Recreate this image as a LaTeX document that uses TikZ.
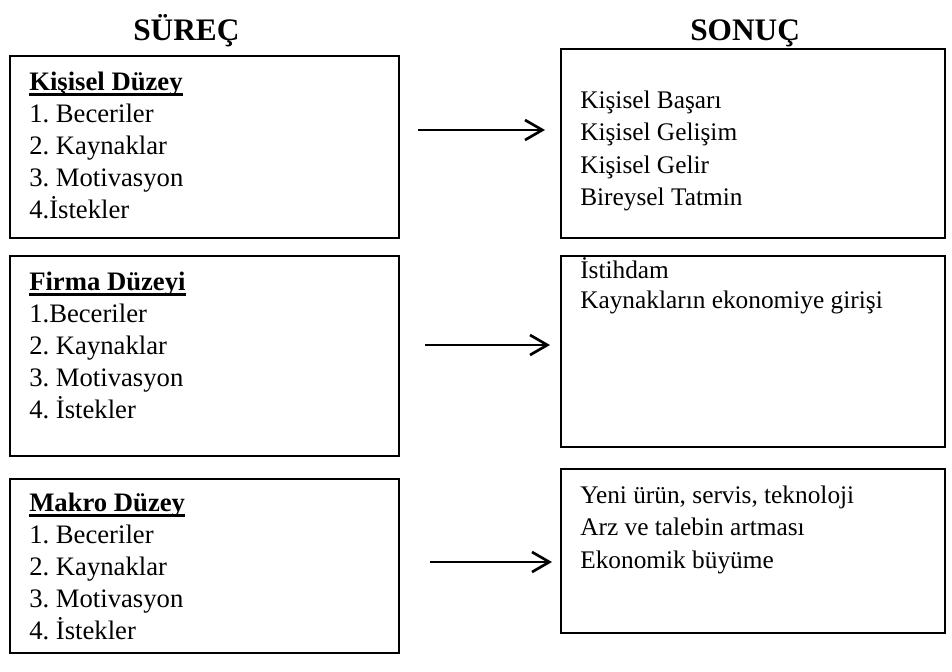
\documentclass[tikz,border=0pt]{standalone}
\usepackage{fontspec}
\setmainfont{Liberation Serif}
\usetikzlibrary{arrows.meta}
\frenchspacing

\newcommand{\ulbf}[1]{\setbox0\hbox{\bfseries #1}\rlap{\rule[-4.3pt]{\wd0}{2pt}}\box0}

\tikzset{
  box/.style={draw, line width=1.4pt, anchor=north west, inner sep=0pt},
  item/.style={anchor=base west, inner sep=0pt, font=\fontsize{20}{24}\selectfont},
  result/.style={item, font=\fontsize{19}{23}\selectfont},
  title/.style={anchor=base west, inner sep=0pt, font=\fontsize{23.5}{28}\selectfont\bfseries},
  arr/.style={-{Straight Barb[length=13pt,width=15pt]}, line width=2pt}
}

\begin{document}
\begin{tikzpicture}[x=0.75pt,y=-0.75pt]
\useasboundingbox (0,0) rectangle (952,671);

\node[title] (surec) at (133,40) {SÜREÇ};
\node[title] (sonuc) at (690,40) {SONUÇ};

% left boxes
\node[box, minimum width=291.75pt, minimum height=136.5pt] (kisisel) at (9,55) {};
\node[box, minimum width=291.75pt, minimum height=150pt] (firma) at (9,255) {};
\node[box, minimum width=291.75pt, minimum height=130.5pt] (makro) at (9,478) {};

\node[item] (kisisel-0) at (29,90) {\ulbf{Kişisel Düzey}};
\foreach \t [count=\i] in {1. Beceriler, 2. Kaynaklar, 3. Motivasyon, 4.İstekler}
  \node[item] (kisisel-\i) at (29,{90+32.2*\i}) {\t};

\node[item] (firma-0) at (29,290) {\ulbf{Firma Düzeyi}};
\foreach \t [count=\i] in {1.Beceriler, 2. Kaynaklar, 3. Motivasyon, 4. İstekler}
  \node[item] (firma-\i) at (29,{290+32*\i}) {\t};

\node[item] (makro-0) at (29,511) {\ulbf{Makro Düzey}};
\foreach \t [count=\i] in {1. Beceriler, 2. Kaynaklar, 3. Motivasyon, 4. İstekler}
  \node[item] (makro-\i) at (29,{511+32*\i}) {\t};

% right boxes
\node[box, minimum width=288pt, minimum height=141.75pt] (basari) at (560,48) {};
\node[box, minimum width=288pt, minimum height=143.25pt] (istihdam) at (560,255) {};
\node[box, minimum width=288pt, minimum height=123pt] (buyume) at (560,468) {};

\foreach \t [count=\i from 0] in {Kişisel Başarı, Kişisel Gelişim, Kişisel Gelir, Bireysel Tatmin}
  \node[result] (basari-\i) at (580,{108+32.5*\i}) {\t};
\foreach \t [count=\i from 0] in {İstihdam, Kaynakların ekonomiye girişi}
  \node[result] (istihdam-\i) at (580,{278+30.5*\i}) {\t};
\foreach \t [count=\i from 0] in {{Yeni ürün, servis, teknoloji}, Arz ve talebin artması, Ekonomik büyüme}
  \node[result] (buyume-\i) at (580,{503+32.5*\i}) {\t};

% arrows
\coordinate (k1) at (418,130);
\coordinate (k2) at (545,130);
\coordinate (f1) at (425,345);
\coordinate (f2) at (550,345);
\coordinate (m1) at (430,562);
\coordinate (m2) at (552,562);

\draw[arr] (k1) -- (k2);
\draw[arr] (f1) -- (f2);
\draw[arr] (m1) -- (m2);
\end{tikzpicture}
\end{document}
